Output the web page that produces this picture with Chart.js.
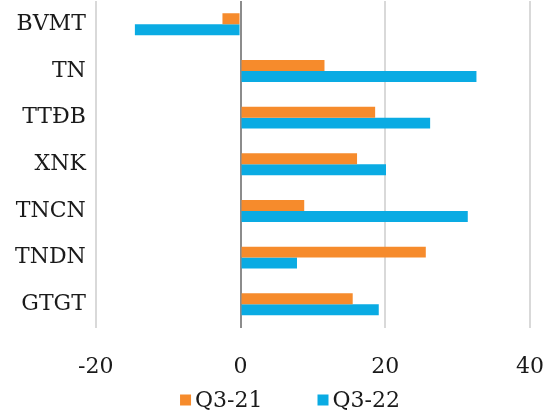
<!DOCTYPE html>
<html>
<head>
<meta charset="utf-8">
<script src="https://cdn.jsdelivr.net/npm/chart.js@4/dist/chart.umd.min.js"></script>
<style>
  html, body { margin: 0; padding: 0; background: #ffffff; }
  #wrap { width: 552px; height: 416px; }
</style>
</head>
<body>
<div id="wrap"><canvas id="c" width="552" height="416"></canvas></div>
<script>
const categories = ["BVMT", "TN", "TTĐB", "XNK", "TNCN", "TNDN", "GTGT"];
const seriesNames = ["Q3-21", "Q3-22"];
const q321 = [-2.5, 11.6, 18.6, 16.1, 8.8, 25.6, 15.5];
const q322 = [-14.6, 32.6, 26.2, 20.1, 31.4, 7.8, 19.1];
const xTicks = [-20, 0, 20, 40];

const FONT = "'DejaVu Serif', 'Liberation Serif', serif";
const FSIZE = 22;
const TEXT = '#1a1a1a';

// Custom legend drawn below the axis (Excel-like compact spacing)
const bottomLegend = {
  id: 'bottomLegend',
  afterDraw(chart) {
    const ctx = chart.ctx;
    const ds = chart.data.datasets;
    ctx.save();
    ctx.font = FSIZE + "px " + FONT;
    ctx.textBaseline = 'middle';
    ctx.textAlign = 'left';
    const box = 11, boxGap = 4, itemGap = 55;
    const widths = ds.map(d => box + boxGap + ctx.measureText(d.label).width);
    const total = widths.reduce((a, b) => a + b, 0) + itemGap * (ds.length - 1);
    let x = 290 - total / 2;
    const yc = 400;
    ds.forEach((d, i) => {
      ctx.fillStyle = d.backgroundColor;
      ctx.fillRect(x, yc - box / 2, box, box);
      ctx.fillStyle = TEXT;
      ctx.fillText(d.label, x + box + boxGap, yc + 1);
      x += widths[i] + itemGap;
    });
    ctx.restore();
  }
};

new Chart(document.getElementById('c'), {
  type: 'bar',
  data: {
    labels: categories,
    datasets: [
      { label: seriesNames[0], data: q321, backgroundColor: '#F68B2C', borderWidth: 0,
        categoryPercentage: 0.47, barPercentage: 1.0 },
      { label: seriesNames[1], data: q322, backgroundColor: '#0AABE3', borderWidth: 0,
        categoryPercentage: 0.47, barPercentage: 1.0 }
    ]
  },
  plugins: [bottomLegend],
  options: {
    indexAxis: 'y',
    responsive: false,
    animation: false,
    devicePixelRatio: 1,
    layout: { padding: { top: 1, right: 22, left: 5, bottom: 10 } },
    scales: {
      x: {
        min: -20, max: 40,
        afterBuildTicks: (axis) => { axis.ticks = xTicks.map(v => ({ value: v })); },
        afterFit: (scale) => { scale.paddingLeft = 0; scale.paddingRight = 0; },
        grid: {
          drawTicks: false,
          lineWidth: 2,
          color: (ctx) => (ctx.tick && ctx.tick.value === 0) ? '#8C8C8C' : '#D9D9D9'
        },
        border: { display: false },
        ticks: {
          padding: 26,
          color: TEXT,
          font: { family: FONT, size: FSIZE }
        }
      },
      y: {
        afterFit: (scale) => { scale.paddingTop = 0; scale.paddingBottom = 0; },
        grid: { display: false, drawTicks: false },
        border: { display: false },
        ticks: {
          padding: 10,
          color: TEXT,
          font: { family: FONT, size: FSIZE }
        }
      }
    },
    plugins: {
      legend: { display: false },
      tooltip: { enabled: false }
    }
  }
});
</script>
</body>
</html>
